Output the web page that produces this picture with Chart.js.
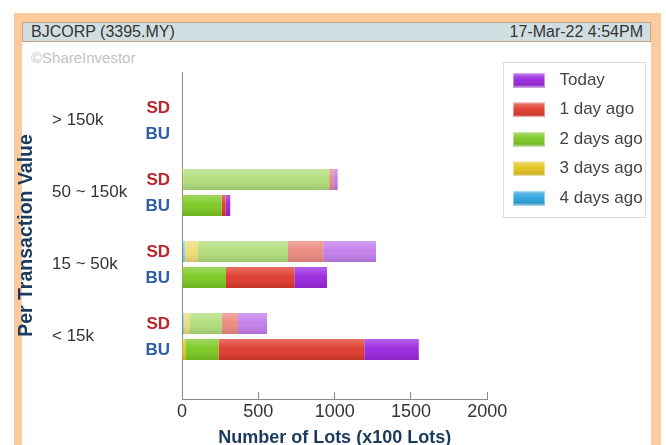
<!DOCTYPE html>
<html>
<head>
<meta charset="utf-8">
<script src="https://cdn.jsdelivr.net/npm/chart.js@4/dist/chart.umd.min.js"></script>
<style>
  html, body { margin: 0; padding: 0; background: #fff; overflow: hidden; width: 666px; height: 445px; }
  #frame { position: absolute; left: 14px; top: 13px; width: 647px; height: 470px; background: #fcca9c; }
  #panel { position: absolute; left: 22px; top: 22px; width: 629px; height: 470px; background: #fff; }
  #hdr { position: absolute; left: 22px; top: 22px; width: 627px; height: 18px; background: #d1dee1;
         border: 1px solid #c6a682; font: 16px "Liberation Sans", Arial, sans-serif; color: #333; line-height: 18px; }
  #hdr .l { position: absolute; left: 8px; top: 0; }
  #hdr .r { position: absolute; right: 7px; top: 0; }
  #wm { position: absolute; left: 31px; top: 49px; font: 15px "Liberation Sans", Arial, sans-serif; color: #c2c2c2; }
  #c { position: absolute; left: 0; top: 0; }
</style>
</head>
<body>
<div id="frame"></div>
<div id="panel"></div>
<div id="hdr"><span class="l">BJCORP (3395.MY)</span><span class="r">17-Mar-22 4:54PM</span></div>
<div id="wm">©ShareInvestor</div>
<canvas id="c" width="666" height="460"></canvas>
<script>
// Transaction-size buckets (top to bottom) and the two sides shown per bucket
const categories = ['> 150k', '50 ~ 150k', '15 ~ 50k', '< 15k'];
const sideLabels = ['SD', 'BU'];

// Periods in stacking order, from the axis outward
const periods = ['4 days ago', '3 days ago', '2 days ago', '1 day ago', 'Today'];
const periodColors = ['#2aa2de', '#e4c41c', '#7cc822', '#df3a2c', '#9a26de'];

// SD volumes (x100 lots) per bucket
const sdFourDays  = [0, 0, 18, 12];
const sdThreeDays = [0, 8, 87, 36];
const sdTwoDays   = [0, 957, 587, 212];
const sdOneDay    = [0, 26, 234, 107];
const sdToday     = [0, 29, 345, 190];

// BU volumes (x100 lots) per bucket
const buFourDays  = [0, 0, 0, 0];
const buThreeDays = [0, 0, 0, 22];
const buTwoDays   = [0, 260, 288, 218];
const buOneDay    = [0, 26, 448, 954];
const buToday     = [0, 30, 214, 357];

const xTicks = [0, 500, 1000, 1500, 2000];

const FONT = '"Liberation Sans", Arial, sans-serif';
const NAVY = '#1b3b5e';

function hexToRgb(h) {
  const n = parseInt(h.slice(1), 16);
  return [(n >> 16) & 255, (n >> 8) & 255, n & 255];
}
function rgba(h, a) {
  const [r, g, b] = hexToRgb(h);
  return `rgba(${r},${g},${b},${a})`;
}

const sdSeries = [sdFourDays, sdThreeDays, sdTwoDays, sdOneDay, sdToday];
const buSeries = [buFourDays, buThreeDays, buTwoDays, buOneDay, buToday];

const toPoints = vals => vals.map((v, i) => ({ x: v, y: i }));

const datasets = [];
periods.forEach((p, k) => {
  datasets.push({ label: p, stack: 'SD', data: toPoints(sdSeries[k]), backgroundColor: rgba(periodColors[k], 0.6) });
});
periods.forEach((p, k) => {
  datasets.push({ label: p, stack: 'BU', data: toPoints(buSeries[k]), backgroundColor: periodColors[k] });
});

// Glossy legend swatches
function makeSwatch(color) {
  const c = document.createElement('canvas');
  c.width = 38; c.height = 15;
  const g = c.getContext('2d');
  g.fillStyle = color;
  g.fillRect(0, 0.5, 32, 14);
  const gr = g.createLinearGradient(0, 0.5, 0, 14.5);
  gr.addColorStop(0, 'rgba(255,255,255,0.35)');
  gr.addColorStop(0.45, 'rgba(255,255,255,0.05)');
  gr.addColorStop(1, 'rgba(0,0,0,0.15)');
  g.fillStyle = gr;
  g.fillRect(0, 0.5, 32, 14);
  g.strokeStyle = 'rgba(255,255,255,0.45)';
  g.lineWidth = 1;
  g.strokeRect(0.5, 1, 31, 13);
  return c;
}
const swatches = periodColors.map(makeSwatch);

// Light frame behind the legend
const legendFrame = {
  id: 'legendFrame',
  beforeDraw(chart) {
    const ctx = chart.ctx;
    ctx.save();
    ctx.fillStyle = '#fff';
    ctx.fillRect(503, 62, 143, 156);
    ctx.strokeStyle = '#dcdcdc';
    ctx.lineWidth = 1;
    ctx.strokeRect(503.5, 62.5, 142, 155);
    ctx.restore();
  },
  afterLayout(chart) {
    const lg = chart.legend;
    lg.left = 500.5; lg.top = 59;
    lg.width = 150; lg.height = 165;
    lg.right = lg.left + lg.width; lg.bottom = lg.top + lg.height;
  }
};

// Shading across each bar and the SD / BU tags beside each pair
const barDecor = {
  id: 'barDecor',
  afterDatasetsDraw(chart) {
    const ctx = chart.ctx;
    ctx.save();
    chart.data.datasets.forEach((ds, di) => {
      const meta = chart.getDatasetMeta(di);
      meta.data.forEach(el => {
        const { x, y, base, height } = el.getProps(['x', 'y', 'base', 'height'], true);
        const w = x - base;
        if (w < 0.5) return;
        const top = y - height / 2;
        const gr = ctx.createLinearGradient(0, top, 0, top + height);
        gr.addColorStop(0, 'rgba(255,255,255,0.28)');
        gr.addColorStop(0.45, 'rgba(255,255,255,0.04)');
        gr.addColorStop(1, 'rgba(0,0,0,0.12)');
        ctx.fillStyle = gr;
        ctx.fillRect(base, top, w, height);
      });
    });
    const sdMeta = chart.getDatasetMeta(0);
    const buMeta = chart.getDatasetMeta(periods.length);
    const tx = chart.chartArea.left - 12;
    ctx.font = 'bold 17px ' + FONT;
    ctx.textAlign = 'right';
    ctx.textBaseline = 'middle';
    [[sdMeta, sideLabels[0], '#b8262c'], [buMeta, sideLabels[1], '#2b5ea6']].forEach(([meta, txt, col]) => {
      ctx.fillStyle = col;
      meta.data.forEach(el => ctx.fillText(txt, tx, el.getProps(['y'], true).y + 1));
    });
    ctx.restore();
  }
};

new Chart(document.getElementById('c'), {
  type: 'bar',
  data: { datasets },
  plugins: [legendFrame, barDecor],
  options: {
    indexAxis: 'y',
    responsive: false,
    animation: false,
    categoryPercentage: 0.7222,
    barPercentage: 0.8077,
    borderWidth: 0,
    layout: { padding: { left: 14, top: 72, right: 178.7, bottom: 11 } },
    font: { family: FONT },
    plugins: {
      tooltip: { enabled: false },
      legend: {
        position: 'chartArea',
        align: 'start',
        labels: {
          usePointStyle: true,
          pointStyleWidth: 38,
          padding: 12.5,
          color: '#444',
          font: { family: FONT, size: 17 },
          generateLabels(chart) {
            const items = Chart.defaults.plugins.legend.labels.generateLabels(chart);
            return items
              .filter(it => chart.data.datasets[it.datasetIndex].stack === 'BU')
              .reverse()
              .map(it => Object.assign(it, { pointStyle: swatches[periods.indexOf(it.text)] }));
          }
        }
      }
    },
    scales: {
      x: {
        type: 'linear',
        position: 'bottom',
        stacked: true,
        min: xTicks[0],
        max: xTicks[xTicks.length - 1],
        afterBuildTicks: s => { s.ticks = xTicks.map(v => ({ value: v })); },
        ticks: { color: '#333', padding: 9, font: { family: FONT, size: 18 }, callback: v => String(v) },
        grid: { drawOnChartArea: false, drawTicks: true, tickLength: -7, color: '#8a8a8a' },
        border: { color: '#8a8a8a', width: 1 },
        title: { display: true, text: 'Number of Lots (x100 Lots)', color: NAVY,
                 font: { family: FONT, size: 18, weight: 'bold' }, padding: { top: 0, bottom: 0 } },
        afterFit: s => { s.height = 50; }
      },
      y: {
        type: 'linear',
        position: 'left',
        weight: 0,
        reverse: true,
        offset: false,
        bounds: 'data',
        min: -0.675,
        max: 3.8667,
        afterBuildTicks: s => { s.ticks = categories.map((c, i) => ({ value: i })); },
        ticks: { callback: v => categories[v], crossAlign: 'far', color: '#333',
                 font: { family: FONT, size: 17 } },
        grid: { display: false, drawTicks: false, offset: false },
        border: { display: true, color: '#8a8a8a', width: 1 },
        afterFit: s => { s.width = 130; }
      },
      yTitle: {
        type: 'linear',
        position: 'left',
        weight: 1,
        grid: { display: false, drawTicks: false },
        border: { display: false },
        ticks: { display: false },
        title: { display: true, text: 'Per Transaction Value', color: NAVY,
                 font: { family: FONT, size: 19.5, weight: 'bold' }, padding: { top: 1, bottom: 0 } },
        afterFit: s => { s.width = 38; }
      }
    }
  }
});
</script>
</body>
</html>
